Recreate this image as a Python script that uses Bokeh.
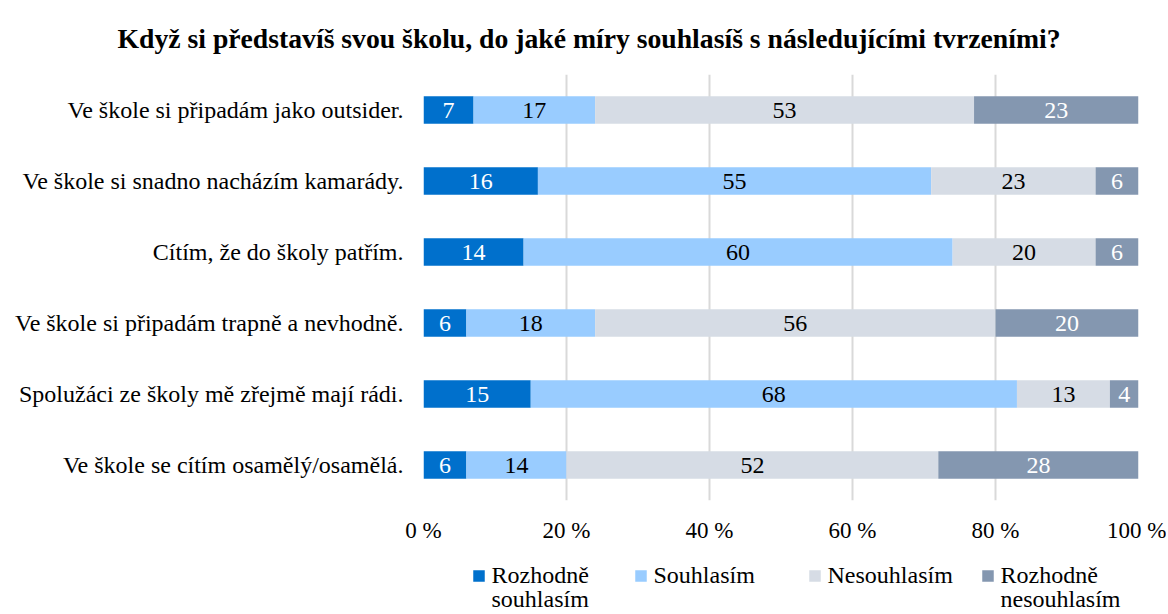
from bokeh.plotting import figure
from bokeh.models import FactorRange, ColumnDataSource, FixedTicker, Title
from bokeh.layouts import column
from bokeh.core.properties import value
from bokeh.embed import file_html
from bokeh.resources import INLINE

categories = [
    "Ve škole si připadám jako outsider.",
    "Ve škole si snadno nacházím kamarády.",
    "Cítím, že do školy patřím.",
    "Ve škole si připadám trapně a nevhodně.",
    "Spolužáci ze školy mě zřejmě mají rádi.",
    "Ve škole se cítím osamělý/osamělá.",
]
series_names = ["Rozhodně\nsouhlasím", "Souhlasím", "Nesouhlasím", "Rozhodně\nnesouhlasím"]
rozhodne_souhlasim = [7, 16, 14, 6, 15, 6]
souhlasim = [17, 55, 60, 18, 68, 14]
nesouhlasim = [53, 23, 20, 56, 13, 52]
rozhodne_nesouhlasim = [23, 6, 6, 20, 4, 28]
x_ticks = [0, 20, 40, 60, 80, 100]
x_tick_labels = ["0 %", "20 %", "40 %", "60 %", "80 %", "100 %"]

colors = ["#0070CC", "#99CCFF", "#D6DCE5", "#8497B0"]
label_colors = ["white", "black", "black", "white"]
FONT = "Liberation Serif"
W = 1166
MAIN_H = 548
LEG_H = 64
FRAME_L, FRAME_R = 423, 1138

series = [rozhodne_souhlasim, souhlasim, nesouhlasim, rozhodne_nesouhlasim]

p = figure(
    width=W, height=MAIN_H,
    y_range=FactorRange(*reversed(categories)),
    x_range=(0, 100),
    output_backend="svg", toolbar_location=None,
    min_border_left=FRAME_L, min_border_right=W - FRAME_R, min_border_top=72, min_border_bottom=48,
)
p.outline_line_color = None

renderers = []
left = [0] * len(categories)
for vals, col, tcol in zip(series, colors, label_colors):
    right = [l + v for l, v in zip(left, vals)]
    mid = [(l + r) / 2 for l, r in zip(left, right)]
    src = ColumnDataSource(dict(y=categories, left=left, right=right, mid=mid,
                                txt=[str(v) for v in vals]))
    r = p.hbar(y="y", left="left", right="right", height=0.39, source=src,
               fill_color=col, line_color=None)
    renderers.append(r)
    p.text(x="mid", y="y", text="txt", source=src, text_align="center",
           text_baseline="middle", text_color=tcol,
           text_font=value(FONT), text_font_size="24px")
    left = right

# axes
p.xaxis.ticker = FixedTicker(ticks=x_ticks)
p.xaxis.major_label_overrides = {t: l for t, l in zip(x_ticks, x_tick_labels)}
p.xaxis.axis_line_color = None
p.xaxis.major_tick_line_color = None
p.xaxis.minor_tick_line_color = None
p.xaxis.major_tick_out = 0
p.xaxis.major_label_standoff = 17
p.xaxis.major_label_text_font = FONT
p.xaxis.major_label_text_font_size = "23px"
p.xaxis.major_label_text_color = "black"

p.yaxis.axis_line_color = None
p.yaxis.major_tick_line_color = None
p.yaxis.major_tick_out = 0
p.yaxis.major_label_standoff = 20
p.yaxis.major_label_text_font = FONT
p.yaxis.major_label_text_font_size = "24px"
p.yaxis.major_label_text_color = "black"

p.ygrid.grid_line_color = None
p.xgrid.grid_line_color = "#D9D9D9"
p.xgrid.grid_line_width = 2

title = Title(text="Když si představíš svou školu, do jaké míry souhlasíš s následujícími tvrzeními?",
              text_font=FONT, text_font_style="bold", text_font_size="27.7px",
              align="left", offset=-306, standoff=41, text_color="black")
p.add_layout(title, "above")

# legend drawn in its own strip below the chart (frame aligned with main frame)
leg = figure(width=W, height=LEG_H, x_range=(FRAME_L, FRAME_R), y_range=(0, LEG_H),
             output_backend="svg", toolbar_location=None,
             min_border_left=FRAME_L, min_border_right=W - FRAME_R,
             min_border_top=0, min_border_bottom=0, outline_line_color=None)
leg.axis.visible = False
leg.grid.visible = False
sq_x = [478.5, 640.5, 814.5, 987.5]
leg_src = ColumnDataSource(dict(x=sq_x, tx=[x + 12.5 for x in sq_x], color=colors,
                                label=series_names))
leg.scatter(x="x", y=LEG_H - 27.5, marker="square", size=11.5, fill_color="color",
            line_color=None, source=leg_src)
leg.text(x="tx", y=LEG_H - 13, text="label", source=leg_src, text_align="left",
         text_baseline="top", text_color="black", text_font=value(FONT),
         text_font_size="24px", text_line_height=0.96)

layout = column(p, leg, spacing=0)
open("out.html", "w").write(file_html(layout, INLINE))
